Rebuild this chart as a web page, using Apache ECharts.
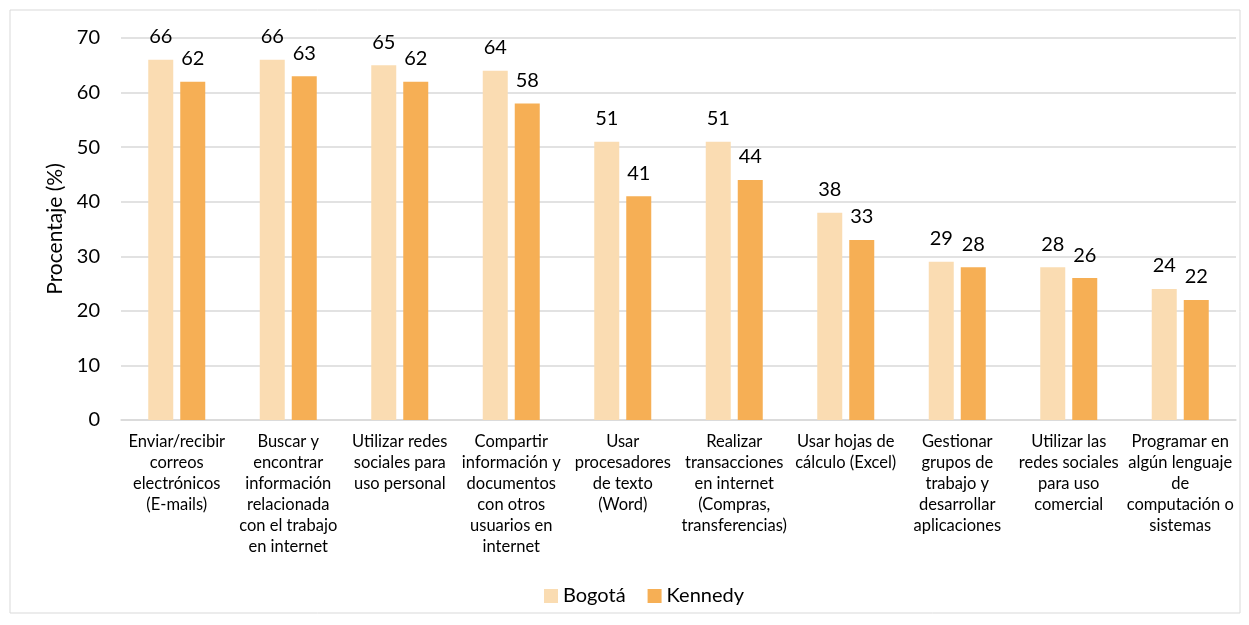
<!DOCTYPE html>
<html><head><meta charset="utf-8">
<script src="https://cdn.jsdelivr.net/npm/echarts@6/dist/echarts.min.js"></script>
<style>html,body{margin:0;padding:0;background:#fff}#c{width:1249px;height:625px}</style>
</head><body><div id="c"></div>
<script>
const categories = [
  "Enviar/recibir\ncorreos\nelectrónicos\n(E-mails)",
  "Buscar y\nencontrar\ninformación\nrelacionada\ncon el trabajo\nen internet",
  "Utilizar redes\nsociales para\nuso personal",
  "Compartir\ninformación y\ndocumentos\ncon otros\nusuarios en\ninternet",
  "Usar\nprocesadores\nde texto\n(Word)",
  "Realizar\ntransacciones\nen internet\n(Compras,\ntransferencias)",
  "Usar hojas de\ncálculo (Excel)",
  "Gestionar\ngrupos de\ntrabajo y\ndesarrollar\naplicaciones",
  "Utilizar las\nredes sociales\npara uso\ncomercial",
  "Programar en\nalgún lenguaje\nde\ncomputación o\nsistemas"
];
const bogota = [66, 66, 65, 64, 51, 51, 38, 29, 28, 24];
const kennedy = [62, 63, 62, 58, 41, 44, 33, 28, 26, 22];
const seriesNames = ["Bogotá", "Kennedy"];
const yAxisName = "Procentaje (%)";

const FONT = "Lato, 'Open Sans', sans-serif";
const chart = echarts.init(document.getElementById('c'));
chart.setOption({
  animation: false,
  textStyle: {fontFamily: FONT},
  graphic: [{type:'rect', shape:{x:10, y:10, width:1230, height:603}, style:{fill:'none', stroke:'#d9d9d9', lineWidth:1}}],
  grid: {left: 121, right: 13, top: 38, bottom: 205, containLabel: false},
  legend: {
    bottom: 14, left: 539, itemWidth: 14, itemHeight: 14, itemGap: 22,
    icon: 'rect',
    textStyle: {fontSize: 20, color: '#000', fontFamily: FONT},
    data: seriesNames
  },
  xAxis: {
    type: 'category', data: categories,
    axisLine: {lineStyle: {color: '#d9d9d9', width: 1.5}},
    axisTick: {show: false},
    axisLabel: {interval: 0, fontSize: 16.5, color: '#000', lineHeight: 21, margin: 11, fontFamily: FONT}
  },
  yAxis: {
    type: 'value', min: 0, max: 70, interval: 10,
    name: yAxisName, nameLocation: 'middle', nameGap: 53, nameRotate: 90,
    nameTextStyle: {fontSize: 21, color: '#000', fontFamily: FONT},
    axisLine: {show: false}, axisTick: {show: false},
    axisLabel: {fontSize: 20, color: '#000', margin: 21, fontFamily: FONT},
    splitLine: {lineStyle: {color: '#d9d9d9', width: 1.5}}
  },
  series: [
    {name: seriesNames[0], type: 'bar', data: bogota, barWidth: 25, barGap: '28%',
     itemStyle: {color: '#FADCB2'},
     label: {show: true, position: 'top', distance: 13, fontSize: 20, color: '#000', fontFamily: FONT}},
    {name: seriesNames[1], type: 'bar', data: kennedy, barWidth: 25,
     itemStyle: {color: '#F6AF55'},
     label: {show: true, position: 'top', distance: 13, fontSize: 20, color: '#000', fontFamily: FONT}}
  ]
});
</script></body></html>
